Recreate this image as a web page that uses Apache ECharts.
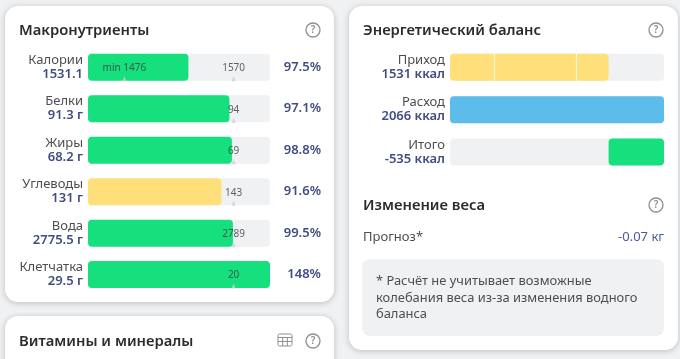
<!DOCTYPE html>
<html><head><meta charset="utf-8">
<style>html,body{margin:0;padding:0;background:#f0f1f3}#c{width:680px;height:359px}</style>
<script src="https://cdn.jsdelivr.net/npm/echarts@6/dist/echarts.min.js"></script>
</head><body><div id="c"></div>
<script>
const FONT = '"Noto Sans","Open Sans",sans-serif';
const GREEN = '#16df7e', YELLOW = '#ffdf7a', BLUE = '#5cbdea', TRACK = '#f0f1f3';

const nutrients = ['Калории','Белки','Жиры','Углеводы','Вода','Клетчатка'];
const nutrientValueLabels = ['1531.1','91.3 г','68.2 г','131 г','2775.5 г','29.5 г'];
const nutrientValues = [1531.1,91.3,68.2,131,2775.5,29.5];
const nutrientTargets = [1570,94,69,143,2789,20];
const nutrientPercents = ['97.5%','97.1%','98.8%','91.6%','99.5%','148%'];
const nutrientColors = [GREEN,GREEN,GREEN,YELLOW,GREEN,GREEN];
const calorieMin = 1476;

const balanceRows = ['Приход','Расход','Итого'];
const balanceLabels = ['1531 ккал','2066 ккал','-535 ккал'];
const intakeMeal1 = [428,0,0];
const intakeMeal2 = [792,0,0];
const intakeMeal3 = [311,0,0];
const expense = [0,2066,0];
const balanceOffset = [0,0,1531];
const balanceDeficit = [0,0,535];

const TARGET_POS = 0.8, MIN_POS = 0.2;
const fill = nutrientValues.map((v,i)=>{
  if(i===0) return MIN_POS+(v-calorieMin)*(TARGET_POS-MIN_POS)/(nutrientTargets[0]-calorieMin);
  return Math.min(1,v/nutrientTargets[i]*TARGET_POS);
});

const card=(x,y,w,h)=>({type:'rect',z:0,shape:{x,y,width:w,height:h,r:13},style:{fill:'#fff',shadowBlur:6,shadowColor:'rgba(0,0,0,0.22)',shadowOffsetY:1}});
const txt=(x,y,text,o={})=>({type:'text',z:1,x,y,style:Object.assign({text,font:`400 13px ${FONT}`,fill:'#4d4d52',textVerticalAlign:'middle',textAlign:'left'},o)});
const title=(x,y,t)=>txt(x,y,t,{font:`600 14.8px ${FONT}`,fill:'#2b2b30'});
const help=(cx,cy)=>({type:'group',z:1,children:[
  {type:'circle',shape:{cx,cy,r:7},style:{fill:'none',stroke:'#8f8f8f',lineWidth:1.3}},
  {type:'text',x:cx,y:cy,style:{text:'?',font:`600 10px ${FONT}`,fill:'#8f8f8f',textAlign:'center',textVerticalAlign:'middle'}}
]});
const tableIcon=(x,y,w,h)=>{
  const s={fill:'none',stroke:'#8f8f8f',lineWidth:1};
  const ln=(a,b,c,d)=>({type:'line',shape:{x1:a,y1:b,x2:c,y2:d},style:s});
  return {type:'group',z:1,children:[
    {type:'rect',shape:{x,y,width:w,height:h,r:1.5},style:s},
    ln(x,y+3.5,x+w,y+3.5),ln(x,y+h*0.62,x+w,y+h*0.62),ln(x+w/3,y+3.5,x+w/3,y+h),ln(x+2*w/3,y+3.5,x+2*w/3,y+h)
  ]};
};

const labelRich={
  n:{fontFamily:FONT,fontSize:13,fontWeight:400,color:'#4d4d52',lineHeight:14,align:'right'},
  v:{fontFamily:FONT,fontSize:13,fontWeight:600,color:'#414c82',lineHeight:14,align:'right'}
};
const xAx=(gridIndex,max)=>({type:'value',gridIndex,min:0,max,show:false});
const seg=(name,data,color,radius,extra={})=>Object.assign({type:'bar',name,xAxisIndex:1,yAxisIndex:2,stack:'b',barWidth:27,data,silent:true,
  itemStyle:{color,borderRadius:radius}},extra);

const option={
  animation:false,backgroundColor:'#f0f1f3',
  graphic:[
    card(5,6,329,296),card(5,316,329,80),card(349,6,329,344),
    title(19,30.5,'Макронутриенты'),help(313,30),
    title(19,341.5,'Витамины и минералы'),tableIcon(278,334,14,12),help(313,341),
    title(363,30.5,'Энергетический баланс'),help(656,30),
    title(363,205.5,'Изменение веса'),help(656,205),
    txt(363,237,'Прогноз*'),
    txt(664,237,'-0.07 кг',{textAlign:'right',fill:'#4a5a9a'}),
    {type:'rect',z:1,shape:{x:362,y:259,width:302,height:77,r:8},style:{fill:TRACK}},
    txt(376,281,'* Расчёт не учитывает возможные',{font:`400 12.9px ${FONT}`}),
    txt(376,298,'колебания веса из-за изменения водного',{font:`400 12.9px ${FONT}`}),
    txt(376,314,'баланса',{font:`400 12.9px ${FONT}`})
  ],
  grid:[
    {left:88,width:182,top:46.6,height:248.7},
    {left:450,width:214,top:46.2,height:127}
  ],
  xAxis:[xAx(0,1),xAx(1,2066)],
  yAxis:[
    {type:'category',gridIndex:0,inverse:true,data:nutrients,axisLine:{show:false},axisTick:{show:false},
      axisLabel:{interval:0,margin:5,formatter:(n,i)=>`{n|${n}}\n{v|${nutrientValueLabels[i]}}`,rich:labelRich}},
    {type:'category',gridIndex:0,inverse:true,position:'right',data:nutrientPercents,axisLine:{show:false},axisTick:{show:false},
      axisLabel:{interval:0,margin:51,align:'right',padding:[2,0,0,0],fontFamily:FONT,fontSize:13,fontWeight:600,color:'#414c82'}},
    {type:'category',gridIndex:1,inverse:true,data:balanceRows,axisLine:{show:false},axisTick:{show:false},
      axisLabel:{interval:0,margin:5,formatter:(n,i)=>`{n|${n}}\n{v|${balanceLabels[i]}}`,rich:labelRich}}
  ],
  series:[
    {type:'bar',xAxisIndex:0,yAxisIndex:0,barWidth:27,silent:true,showBackground:true,
      backgroundStyle:{color:TRACK,borderRadius:4},
      data:fill.map((v,i)=>({value:v,itemStyle:{color:nutrientColors[i],borderRadius:4}}))},
    {type:'scatter',xAxisIndex:0,yAxisIndex:0,symbol:'triangle',symbolSize:[4,5],symbolOffset:[0,11.5],silent:true,z:3,
      itemStyle:{color:'#cfcfd2'},
      data:nutrientTargets.map((t,i)=>[TARGET_POS,i]).concat([[MIN_POS,0]])},
    {type:'scatter',xAxisIndex:0,yAxisIndex:0,symbolSize:0,silent:true,z:4,
      data:nutrientTargets.map((t,i)=>({value:[TARGET_POS,i],label:{formatter:String(t)}}))
        .concat([{value:[MIN_POS,0],label:{formatter:'min '+calorieMin}}]),
      label:{show:true,position:'inside',offset:[0,1],fontFamily:FONT,fontSize:10,color:'#3a3a3f'}},
    seg('Приём 1',intakeMeal1,YELLOW,[4,0,0,4],{showBackground:true,backgroundStyle:{color:TRACK,borderRadius:4}}),
    seg('Приём 2',intakeMeal2,YELLOW,0),
    seg('Приём 3',intakeMeal3,YELLOW,[0,4,4,0]),
    seg('Расход',expense,BLUE,4),
    seg('Смещение',balanceOffset,'rgba(0,0,0,0)',0),
    seg('Итого',balanceDeficit,GREEN,4),
    {type:'scatter',name:'Разделители',xAxisIndex:1,yAxisIndex:2,symbol:'rect',symbolSize:[1,27],silent:true,z:5,
      itemStyle:{color:'#ffffff'},
      data:[[intakeMeal1[0],0],[intakeMeal1[0]+intakeMeal2[0],0]]}
  ]
};
const chart=echarts.init(document.getElementById('c'),null,{renderer:'canvas'});
chart.setOption(option);
</script></body></html>
